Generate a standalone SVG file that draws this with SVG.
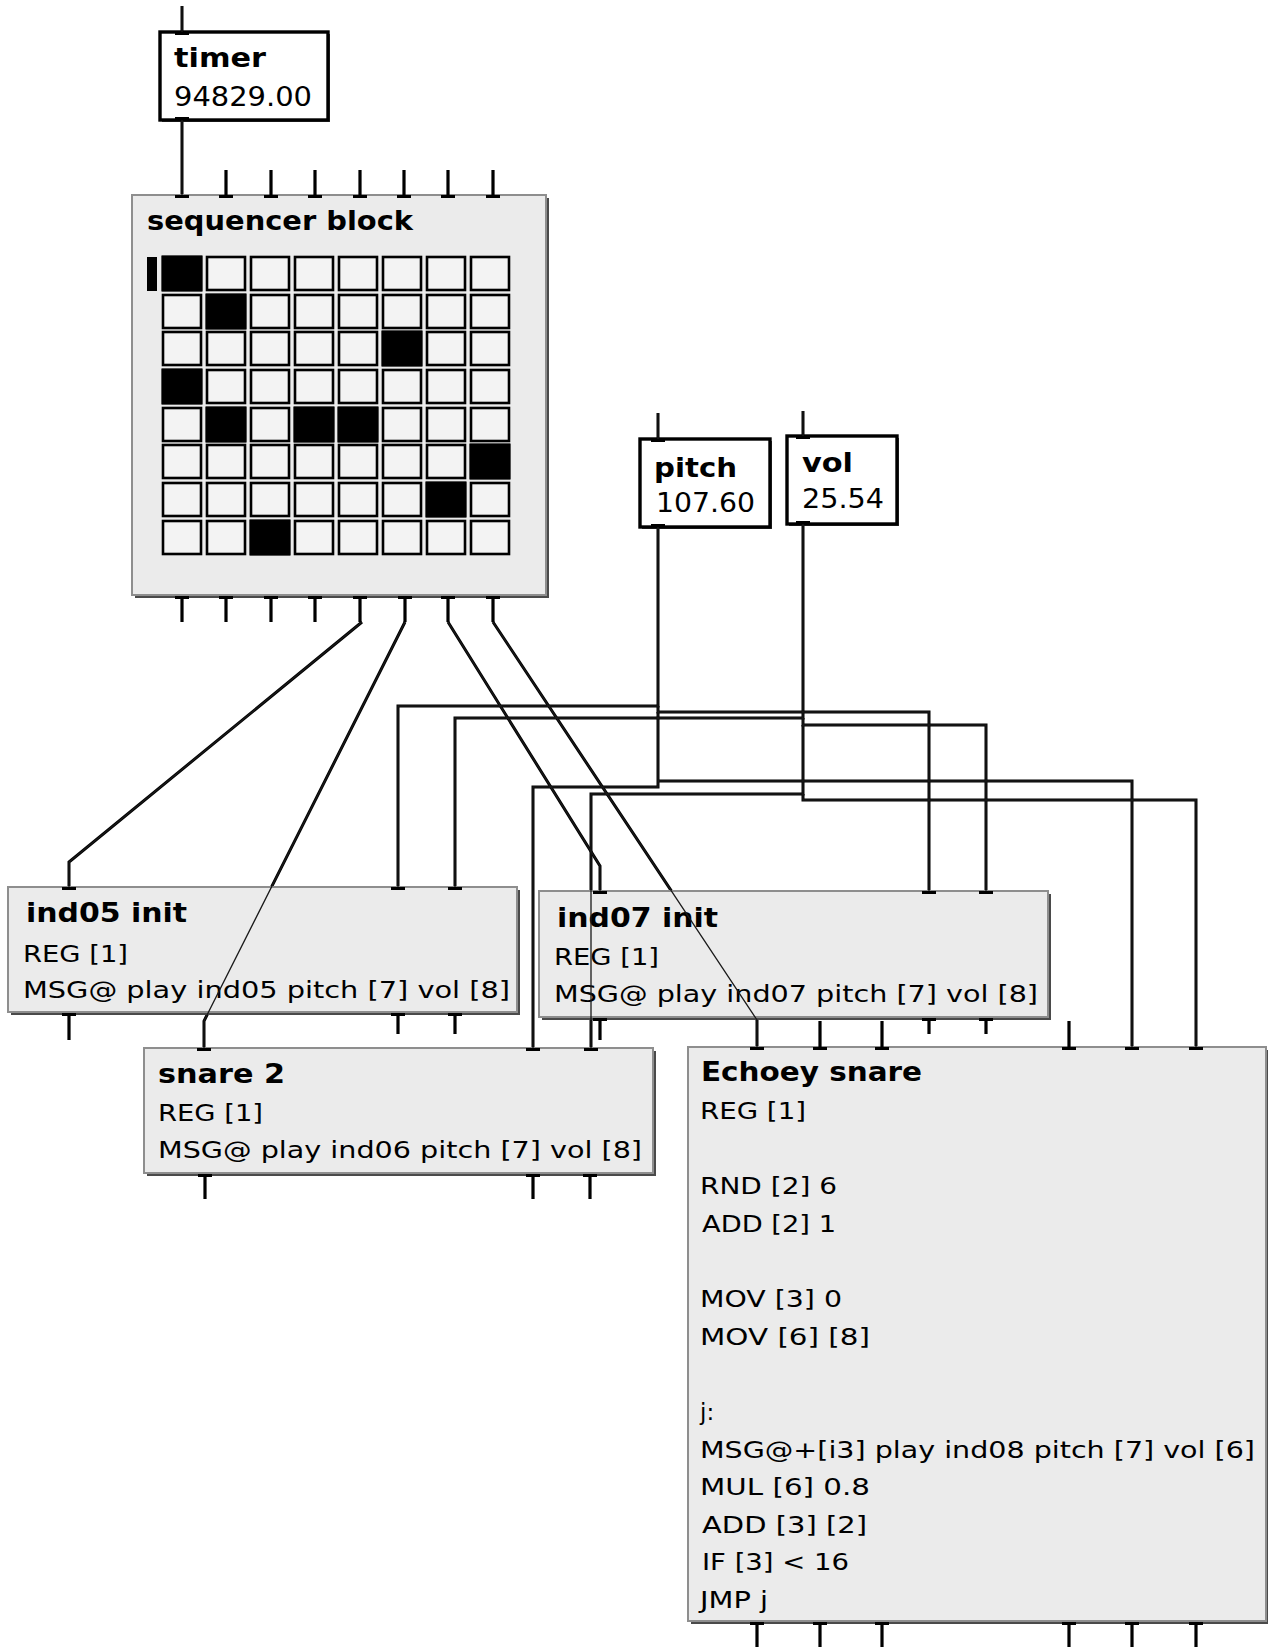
<svg xmlns="http://www.w3.org/2000/svg" xmlns:xlink="http://www.w3.org/1999/xlink" width="1268" height="1647" viewBox="0 0 1268 1647">
<defs>
<style>
.wire{fill:none;stroke:#000;stroke-width:3;stroke-linejoin:miter}
.wire-over{fill:none;stroke:#1a1a1a;stroke-width:1.3}
.pin{fill:none;stroke:#000;stroke-width:3.2}
.shadow{fill:#4a4a4a}
.box{fill:#ebebeb;stroke:#8e8e8e;stroke-width:2}
.vbox{fill:#fff;stroke:#000;stroke-width:3.4}
.cell{fill:#f3f3f3;stroke:#000;stroke-width:2.6}
.on{fill:#000}
text{font-family:"DejaVu Sans","Verdana",sans-serif;fill:#000}
.t{font-size:26px;font-weight:bold}
.b{font-size:23px}
.v{font-size:27px}
</style>
</defs>
<rect x="0" y="0" width="1268" height="1647" fill="#fff"/>

<g class="wire">
<g id="connectors">
<path d="M182 6 V32"/>
<path d="M182 120 V195"/>
<path d="M362 622 L69 862 V887"/>
<path d="M405 622 L204 1021 V1048"/>
<path d="M448 622 L600 866 V891"/>
<path d="M493 622 L757 1020 V1047"/>
<path d="M658 413 V439"/>
<path d="M803 411 V436"/>
<path d="M658 527 V706 H398 V887"/>
<path d="M658 706 V712 H929 V891"/>
<path d="M658 712 V787 H533 V1048"/>
<path d="M658 781 H1132 V1047"/>
<path d="M803 524 V718 H455 V887"/>
<path d="M803 718 V725 H986 V891"/>
<path d="M803 725 V794 H591 V1048"/>
<path d="M803 794 V800 H1196 V1047"/>
</g>
</g>

<g id="timer">
<rect class="shadow" x="162" y="34" width="168" height="88"/>
<rect class="vbox" x="160" y="32" width="168" height="88"/>
<path class="pin" d="M175 33.5 H189 M175 118.5 H189"/>
<text class="t" x="174" y="67" textLength="92" lengthAdjust="spacingAndGlyphs">timer</text>
<text class="v" x="174" y="106" textLength="138" lengthAdjust="spacingAndGlyphs">94829.00</text>
</g>

<g id="sequencer">
<rect class="shadow" x="135" y="198" width="414" height="400"/>
<rect class="box" x="132" y="195" width="414" height="400"/>
<path class="pin" d="M226 170 V195 M271 170 V195 M315 170 V195 M360 170 V195 M404 170 V195 M448 170 V195 M493 170 V195"/>
<path class="pin" d="M175 196.5 H189 M219 196.5 H233 M264 196.5 H278 M308 196.5 H322 M353 196.5 H367 M397 196.5 H411 M441 196.5 H455 M486 196.5 H500"/>
<path class="pin" d="M182 597 V622 M226 597 V622 M271 597 V622 M315 597 V622 M360 597 V622 M405 597 V622 M448 597 V622 M493 597 V622"/>
<path class="pin" d="M175 597.5 H189 M219 597.5 H233 M264 597.5 H278 M308 597.5 H322 M353 597.5 H367 M398 597.5 H412 M441 597.5 H455 M486 597.5 H500"/>
<text class="t" x="147" y="230" textLength="266" lengthAdjust="spacingAndGlyphs">sequencer block</text>
<rect class="on" x="147" y="257" width="10" height="34"/>
<g>
<rect class="cell" x="163" y="257" width="38" height="33"/><rect class="cell" x="207" y="257" width="38" height="33"/><rect class="cell" x="251" y="257" width="38" height="33"/><rect class="cell" x="295" y="257" width="38" height="33"/><rect class="cell" x="339" y="257" width="38" height="33"/><rect class="cell" x="383" y="257" width="38" height="33"/><rect class="cell" x="427" y="257" width="38" height="33"/><rect class="cell" x="471" y="257" width="38" height="33"/>
<rect class="cell" x="163" y="295" width="38" height="33"/><rect class="cell" x="207" y="295" width="38" height="33"/><rect class="cell" x="251" y="295" width="38" height="33"/><rect class="cell" x="295" y="295" width="38" height="33"/><rect class="cell" x="339" y="295" width="38" height="33"/><rect class="cell" x="383" y="295" width="38" height="33"/><rect class="cell" x="427" y="295" width="38" height="33"/><rect class="cell" x="471" y="295" width="38" height="33"/>
<rect class="cell" x="163" y="332" width="38" height="33"/><rect class="cell" x="207" y="332" width="38" height="33"/><rect class="cell" x="251" y="332" width="38" height="33"/><rect class="cell" x="295" y="332" width="38" height="33"/><rect class="cell" x="339" y="332" width="38" height="33"/><rect class="cell" x="383" y="332" width="38" height="33"/><rect class="cell" x="427" y="332" width="38" height="33"/><rect class="cell" x="471" y="332" width="38" height="33"/>
<rect class="cell" x="163" y="370" width="38" height="33"/><rect class="cell" x="207" y="370" width="38" height="33"/><rect class="cell" x="251" y="370" width="38" height="33"/><rect class="cell" x="295" y="370" width="38" height="33"/><rect class="cell" x="339" y="370" width="38" height="33"/><rect class="cell" x="383" y="370" width="38" height="33"/><rect class="cell" x="427" y="370" width="38" height="33"/><rect class="cell" x="471" y="370" width="38" height="33"/>
<rect class="cell" x="163" y="408" width="38" height="33"/><rect class="cell" x="207" y="408" width="38" height="33"/><rect class="cell" x="251" y="408" width="38" height="33"/><rect class="cell" x="295" y="408" width="38" height="33"/><rect class="cell" x="339" y="408" width="38" height="33"/><rect class="cell" x="383" y="408" width="38" height="33"/><rect class="cell" x="427" y="408" width="38" height="33"/><rect class="cell" x="471" y="408" width="38" height="33"/>
<rect class="cell" x="163" y="445" width="38" height="33"/><rect class="cell" x="207" y="445" width="38" height="33"/><rect class="cell" x="251" y="445" width="38" height="33"/><rect class="cell" x="295" y="445" width="38" height="33"/><rect class="cell" x="339" y="445" width="38" height="33"/><rect class="cell" x="383" y="445" width="38" height="33"/><rect class="cell" x="427" y="445" width="38" height="33"/><rect class="cell" x="471" y="445" width="38" height="33"/>
<rect class="cell" x="163" y="483" width="38" height="33"/><rect class="cell" x="207" y="483" width="38" height="33"/><rect class="cell" x="251" y="483" width="38" height="33"/><rect class="cell" x="295" y="483" width="38" height="33"/><rect class="cell" x="339" y="483" width="38" height="33"/><rect class="cell" x="383" y="483" width="38" height="33"/><rect class="cell" x="427" y="483" width="38" height="33"/><rect class="cell" x="471" y="483" width="38" height="33"/>
<rect class="cell" x="163" y="521" width="38" height="33"/><rect class="cell" x="207" y="521" width="38" height="33"/><rect class="cell" x="251" y="521" width="38" height="33"/><rect class="cell" x="295" y="521" width="38" height="33"/><rect class="cell" x="339" y="521" width="38" height="33"/><rect class="cell" x="383" y="521" width="38" height="33"/><rect class="cell" x="427" y="521" width="38" height="33"/><rect class="cell" x="471" y="521" width="38" height="33"/>
</g>
<g class="on">
<rect x="161.5" y="255.5" width="41" height="36"/>
<rect x="205.5" y="293.5" width="41" height="36"/>
<rect x="381.5" y="330.5" width="41" height="36"/>
<rect x="161.5" y="368.5" width="41" height="36"/>
<rect x="205.5" y="406.5" width="41" height="36"/>
<rect x="293.5" y="406.5" width="41" height="36"/>
<rect x="337.5" y="406.5" width="41" height="36"/>
<rect x="469.5" y="443.5" width="41" height="36"/>
<rect x="425.5" y="481.5" width="41" height="36"/>
<rect x="249.5" y="519.5" width="41" height="36"/>
</g>
</g>

<g id="pitch">
<rect class="shadow" x="642" y="441" width="130" height="88"/>
<rect class="vbox" x="640" y="439" width="130" height="88"/>
<path class="pin" d="M651 440.5 H665 M651 525.5 H665"/>
<text class="t" x="654" y="477" textLength="83" lengthAdjust="spacingAndGlyphs">pitch</text>
<text class="v" x="656" y="512" textLength="99" lengthAdjust="spacingAndGlyphs">107.60</text>
</g>

<g id="vol">
<rect class="shadow" x="789" y="438" width="110" height="88"/>
<rect class="vbox" x="787" y="436" width="110" height="88"/>
<path class="pin" d="M796 437.5 H810 M796 522.5 H810"/>
<text class="t" x="802" y="472" textLength="51" lengthAdjust="spacingAndGlyphs">vol</text>
<text class="v" x="802" y="508" textLength="82" lengthAdjust="spacingAndGlyphs">25.54</text>
</g>

<g id="ind05">
<rect class="shadow" x="11" y="890" width="509" height="125"/>
<rect class="box" x="8" y="887" width="509" height="125"/>
<path class="pin" d="M62 888.5 H76 M391 888.5 H405 M448 888.5 H462"/>
<path class="pin" d="M69 1014 V1040 M398 1014 V1034 M455 1014 V1034 M62 1014.5 H76 M391 1014.5 H405 M448 1014.5 H462"/>
<text class="t" x="26" y="922" textLength="161" lengthAdjust="spacingAndGlyphs">ind05 init</text>
<text class="b" x="23" y="962" textLength="105" lengthAdjust="spacingAndGlyphs">REG [1]</text>
<text class="b" x="23" y="998" textLength="487" lengthAdjust="spacingAndGlyphs">MSG@ play ind05 pitch [7] vol [8]</text>
</g>

<g id="ind07">
<rect class="shadow" x="542" y="894" width="509" height="126"/>
<rect class="box" x="539" y="891" width="509" height="126"/>
<path class="pin" d="M593 892.5 H607 M922 892.5 H936 M979 892.5 H993"/>
<path class="pin" d="M600 1019 V1040 M929 1019 V1034 M986 1019 V1034 M593 1019.5 H607 M922 1019.5 H936 M979 1019.5 H993"/>
<text class="t" x="557" y="927" textLength="161" lengthAdjust="spacingAndGlyphs">ind07 init</text>
<text class="b" x="554" y="965" textLength="105" lengthAdjust="spacingAndGlyphs">REG [1]</text>
<text class="b" x="554" y="1002" textLength="484" lengthAdjust="spacingAndGlyphs">MSG@ play ind07 pitch [7] vol [8]</text>
</g>

<g id="snare2">
<rect class="shadow" x="147" y="1051" width="509" height="125"/>
<rect class="box" x="144" y="1048" width="509" height="125"/>
<path class="pin" d="M197 1049.5 H211 M526 1049.5 H540 M584 1049.5 H598"/>
<path class="pin" d="M205 1175 V1199 M533 1175 V1199 M590 1175 V1199 M198 1175.5 H212 M526 1175.5 H540 M583 1175.5 H597"/>
<text class="t" x="158" y="1083" textLength="127" lengthAdjust="spacingAndGlyphs">snare 2</text>
<text class="b" x="158" y="1121" textLength="105" lengthAdjust="spacingAndGlyphs">REG [1]</text>
<text class="b" x="158" y="1158" textLength="484" lengthAdjust="spacingAndGlyphs">MSG@ play ind06 pitch [7] vol [8]</text>
</g>

<g id="echoey">
<rect class="shadow" x="691" y="1050" width="578" height="574"/>
<rect class="box" x="688" y="1047" width="578" height="574"/>
<path class="pin" d="M820 1021 V1047 M882 1021 V1047 M1069 1021 V1047"/>
<path class="pin" d="M750 1048.5 H764 M813 1048.5 H827 M875 1048.5 H889 M1062 1048.5 H1076 M1125 1048.5 H1139 M1189 1048.5 H1203"/>
<path class="pin" d="M757 1623 V1647 M820 1623 V1647 M882 1623 V1647 M1069 1623 V1647 M1132 1623 V1647 M1196 1623 V1647"/>
<path class="pin" d="M750 1623.5 H764 M813 1623.5 H827 M875 1623.5 H889 M1062 1623.5 H1076 M1125 1623.5 H1139 M1189 1623.5 H1203"/>
<text class="t" x="701" y="1081" textLength="221" lengthAdjust="spacingAndGlyphs">Echoey snare</text>
<text class="b" x="700" y="1119" textLength="106" lengthAdjust="spacingAndGlyphs">REG [1]</text>
<text class="b" x="700" y="1194" textLength="137" lengthAdjust="spacingAndGlyphs">RND [2] 6</text>
<text class="b" x="702" y="1232" textLength="134" lengthAdjust="spacingAndGlyphs">ADD [2] 1</text>
<text class="b" x="700" y="1307" textLength="142" lengthAdjust="spacingAndGlyphs">MOV [3] 0</text>
<text class="b" x="700" y="1345" textLength="170" lengthAdjust="spacingAndGlyphs">MOV [6] [8]</text>
<text class="b" x="700" y="1420">j:</text>
<text class="b" x="700" y="1458" textLength="555" lengthAdjust="spacingAndGlyphs">MSG@+[i3] play ind08 pitch [7] vol [6]</text>
<text class="b" x="700" y="1495" textLength="170" lengthAdjust="spacingAndGlyphs">MUL [6] 0.8</text>
<text class="b" x="702" y="1533" textLength="165" lengthAdjust="spacingAndGlyphs">ADD [3] [2]</text>
<text class="b" x="702" y="1570" textLength="147" lengthAdjust="spacingAndGlyphs">IF [3] &lt; 16</text>
<text class="b" x="700" y="1608" textLength="68" lengthAdjust="spacingAndGlyphs">JMP j</text>
</g>

<use xlink:href="#connectors" href="#connectors" class="wire-over"/>
</svg>
